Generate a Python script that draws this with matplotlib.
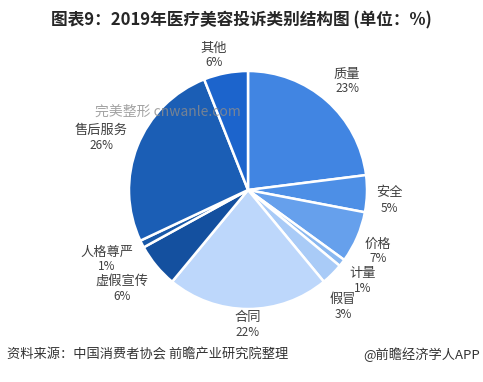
import matplotlib.pyplot as plt

plt.rcParams['font.family'] = ['Noto Sans CJK SC', 'DejaVu Sans']

# Data
categories = ['质量', '安全', '价格', '计量', '假冒', '合同', '虚假宣传', '人格尊严', '售后服务', '其他']
shares = [23, 5, 7, 1, 3, 22, 6, 1, 26, 6]
colors = ['#4185e2', '#4d8fe6', '#66a0ec', '#8ab8f0', '#a9cbf7',
          '#bdd7fb', '#14509f', '#1858a8', '#1b5eb5', '#1c64cc']
# label anchor points in pixels (x, y from top)
label_pos = [(347, 74), (389, 193), (378, 244), (363, 274), (343, 299),
             (248, 318), (122, 281), (107, 252), (101, 130), (214, 48)]

W, H = 483, 382
fig = plt.figure(figsize=(W / 100, H / 100), dpi=100)

cx, cy, r = 248, 190, 119
ax = fig.add_axes([(cx - r) / W, (H - cy - r) / H, 2 * r / W, 2 * r / H])
ax.pie(shares, colors=colors, startangle=90, counterclock=False, radius=1,
       wedgeprops=dict(edgecolor='white', linewidth=1.8))
ax.set_xlim(-1, 1)
ax.set_ylim(-1, 1)
ax.set_aspect('equal')
ax.axis('off')

for name, val, (x, y) in zip(categories, shares, label_pos):
    fig.text(x / W, 1 - y / H, name, ha='center', va='center', fontsize=9.5, color='#404040')
    fig.text(x / W, 1 - (y + 15) / H, f'{val}%', ha='center', va='center', fontsize=8.5, color='#404040')

# watermark text
fig.text(168 / W, 1 - 112 / H, '完美整形 cnwanle.com', ha='center', va='center',
         fontsize=10, color='#8c8c8c', alpha=0.8)

fig.text(241 / W, 1 - 20 / H, '图表9：2019年医疗美容投诉类别结构图 (单位：%)', ha='center', va='center',
         fontsize=12, fontweight='bold', color='#262626')
fig.text(7 / W, 1 - 355 / H, '资料来源：中国消费者协会 前瞻产业研究院整理', ha='left', va='center',
         fontsize=9.5, color='#333333')
fig.text(480 / W, 1 - 355 / H, '@前瞻经济学人APP', ha='right', va='center',
         fontsize=9.5, color='#333333')

fig.savefig('out.png', dpi=100)
